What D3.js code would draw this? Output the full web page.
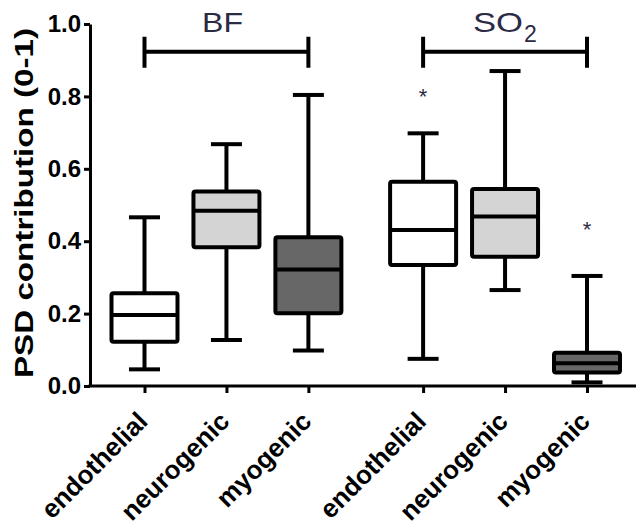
<!DOCTYPE html>
<html>
<head>
<meta charset="utf-8">
<script src="https://cdn.jsdelivr.net/npm/d3@7"></script>
<style>
  body { margin: 0; background: #fff; }
  svg { display: block; font-family: Arial, "Liberation Sans", sans-serif; }
</style>
</head>
<body>
<svg id="chart" width="636" height="526"></svg>
<script>
// data
const groups = ['BF', 'SO2'];
const categories = ['endothelial', 'neurogenic', 'myogenic'];
const fills = ['#ffffff', '#d4d4d4', '#676767'];
// [whiskerLow, q1, median, q3, whiskerHigh] per group, per category
const bfStats = [
  [0.046, 0.122, 0.196, 0.256, 0.466],
  [0.127, 0.383, 0.484, 0.537, 0.668],
  [0.098, 0.201, 0.322, 0.411, 0.804]
];
const so2Stats = [
  [0.075, 0.334, 0.431, 0.564, 0.698],
  [0.265, 0.357, 0.468, 0.544, 0.870],
  [0.010, 0.037, 0.063, 0.092, 0.304]
];
// outliers marked with *, [group, category, value]
const outliers = [[1, 0, 0.81], [1, 2, 0.442]];
const yTicks = [0, 0.2, 0.4, 0.6, 0.8, 1.0];

const MARGIN = { top: 24, left: 90, bottom: 140 };
const W = 636, H = 526;
const BOX_W = 66, CAP_W = 31, GROUP_GAP = 0.4;

const svg = d3.select('#chart');

const y = d3.scaleLinear()
  .domain([0, 1])
  .range([H - MARGIN.bottom, MARGIN.top]);

// slot index: category + extra gap between groups
const slot = (g, c) => g * (categories.length + GROUP_GAP) + c;
const x = d3.scaleLinear()
  .domain([0, slot(1, 2)])
  .range([144.5, 587]);

const rows = [];
[bfStats, so2Stats].forEach((stats, g) => {
  stats.forEach((s, c) => rows.push({ g, c, s, cx: x(slot(g, c)) }));
});

// y axis
const yAxis = svg.append('g')
  .attr('transform', `translate(${MARGIN.left},0)`)
  .call(d3.axisLeft(y).tickValues(yTicks).tickFormat(d3.format('.1f')).tickSize(6).tickSizeOuter(0));
yAxis.select('.domain').attr('stroke-width', 3);
yAxis.selectAll('.tick line').attr('stroke-width', 3);
yAxis.selectAll('.tick text')
  .attr('x', -9)
  .attr('font-size', 24)
  .attr('font-weight', 'bold')
  .attr('fill', '#000');

// y label
svg.append('text')
  .attr('transform', 'translate(33,203) rotate(-90)')
  .attr('text-anchor', 'middle')
  .attr('font-size', 25)
  .attr('font-weight', 'bold')
  .attr('textLength', 350)
  .attr('lengthAdjust', 'spacingAndGlyphs')
  .text('PSD contribution (0-1)');

// x axis
const xAxis = svg.append('g')
  .attr('transform', `translate(0,${y(0)})`)
  .call(d3.axisBottom(x)
    .tickValues(rows.map(d => slot(d.g, d.c)))
    .tickFormat((d, i) => categories[rows[i].c])
    .tickSize(7));
xAxis.select('.domain').remove();
xAxis.append('line')
  .attr('x1', MARGIN.left - 1.5).attr('x2', W)
  .attr('stroke', '#000').attr('stroke-width', 3);
xAxis.selectAll('.tick line').attr('stroke-width', 3);
xAxis.selectAll('.tick text')
  .attr('font-size', 26)
  .attr('font-weight', 'bold')
  .attr('fill', '#000')
  .attr('text-anchor', 'end')
  .attr('dy', null)
  .attr('y', 0)
  .attr('transform', 'translate(4,37) rotate(-45)');

// boxes
const box = svg.append('g').selectAll('g')
  .data(rows)
  .join('g')
  .attr('stroke', '#000')
  .attr('stroke-width', 4)
  .attr('stroke-linejoin', 'round');

box.append('line')
  .attr('x1', d => d.cx).attr('x2', d => d.cx)
  .attr('y1', d => y(d.s[0])).attr('y2', d => y(d.s[4]));
box.append('line')
  .attr('x1', d => d.cx - CAP_W / 2).attr('x2', d => d.cx + CAP_W / 2)
  .attr('y1', d => y(d.s[0])).attr('y2', d => y(d.s[0]));
box.append('line')
  .attr('x1', d => d.cx - CAP_W / 2).attr('x2', d => d.cx + CAP_W / 2)
  .attr('y1', d => y(d.s[4])).attr('y2', d => y(d.s[4]));
box.append('rect')
  .attr('x', d => d.cx - BOX_W / 2)
  .attr('width', BOX_W)
  .attr('y', d => y(d.s[3]))
  .attr('height', d => y(d.s[1]) - y(d.s[3]))
  .attr('rx', 2)
  .attr('fill', d => fills[d.c]);
box.append('line')
  .attr('x1', d => d.cx - BOX_W / 2).attr('x2', d => d.cx + BOX_W / 2)
  .attr('y1', d => y(d.s[2])).attr('y2', d => y(d.s[2]));

// outlier stars
svg.append('g').selectAll('text')
  .data(outliers)
  .join('text')
  .attr('x', d => x(slot(d[0], d[1])))
  .attr('y', d => y(d[2]) + 11)
  .attr('text-anchor', 'middle')
  .attr('font-size', 22)
  .attr('fill', '#2b2b45')
  .text('*');

// group brackets
const BRACKET_V = 0.923;
const bracket = svg.append('g').selectAll('g')
  .data(groups)
  .join('g');
bracket.append('path')
  .attr('d', (d, g) => {
    const x0 = x(slot(g, 0)), x1 = x(slot(g, 2)), yy = y(BRACKET_V);
    return `M${x0},${yy - 15}V${yy + 16}M${x0},${yy}H${x1}M${x1},${yy - 15}V${yy + 16}`;
  })
  .attr('fill', 'none')
  .attr('stroke', '#000')
  .attr('stroke-width', 4);

bracket.filter(d => d === 'BF').append('text')
  .attr('x', 202)
  .attr('y', 32)
  .attr('font-size', 28)
  .attr('fill', '#2b2b45')
  .attr('textLength', 41)
  .attr('lengthAdjust', 'spacingAndGlyphs')
  .text('BF');
const so2 = bracket.filter(d => d === 'SO2').append('text')
  .attr('y', 32)
  .attr('font-size', 28)
  .attr('fill', '#2b2b45');
so2.append('tspan')
  .attr('x', 473)
  .attr('textLength', 50)
  .attr('lengthAdjust', 'spacingAndGlyphs')
  .text('SO');
so2.append('tspan')
  .attr('x', 524)
  .attr('dy', 10)
  .attr('font-size', 23)
  .text('2');
</script>
</body>
</html>
